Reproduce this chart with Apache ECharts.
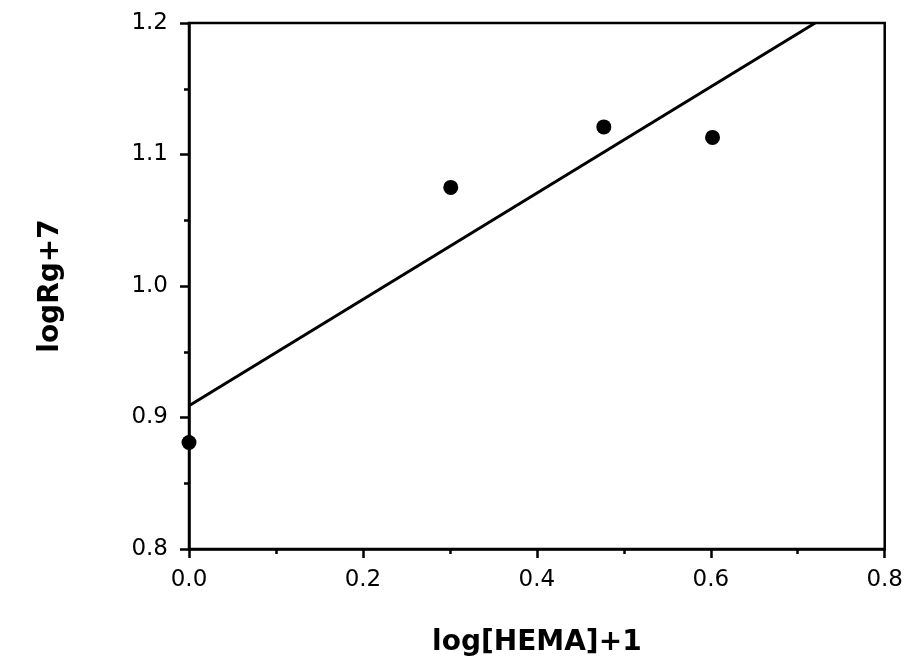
<!DOCTYPE html>
<html>
<head>
<meta charset="utf-8">
<script src="https://cdn.jsdelivr.net/npm/echarts@6/dist/echarts.min.js"></script>
<style>
  html, body { margin: 0; padding: 0; background: #fff; }
  #chart { width: 906px; height: 662px; }
</style>
</head>
<body>
<div id="chart"></div>
<script>
// Measured points: log[HEMA]+1 vs logRg+7
const hemaLog = [0.0, 0.301, 0.477, 0.602];
const rgLog = [0.881, 1.075, 1.121, 1.113];

// Least-squares fit line, drawn between its two ends inside the frame
const fitX = [0.0, 0.72];
const fitY = [0.909, 1.2];

const xTicks = { min: 0, max: 0.8, step: 0.2 };
const yTicks = { min: 0.8, max: 1.2, step: 0.1 };

const points = hemaLog.map((x, i) => [x, rgLog[i]]);
const fitLine = fitX.map((x, i) => [x, fitY[i]]);

const labelStyle = {
  color: '#000',
  fontFamily: 'DejaVu Sans, sans-serif',
  fontSize: 23
};
const nameStyle = {
  color: '#000',
  fontFamily: 'DejaVu Sans, sans-serif',
  fontWeight: 'bold',
  fontSize: 28
};

function makeAxis(extra) {
  return Object.assign({
    type: 'value',
    axisLine: { show: true, onZero: false, lineStyle: { color: '#000', width: 2.5 } },
    axisTick: { show: true, inside: false, length: 9, lineStyle: { color: '#000', width: 2.5 } },
    minorTick: { show: true, splitNumber: 2, length: 5, lineStyle: { color: '#000', width: 2.5 } },
    splitLine: { show: false },
    nameLocation: 'middle',
    nameTextStyle: nameStyle
  }, extra);
}

const chart = echarts.init(document.getElementById('chart'), null, { renderer: 'canvas' });
chart.setOption({
  animation: false,
  backgroundColor: '#fff',
  grid: {
    left: 189, right: 21, top: 23, bottom: 113,
    show: true, borderColor: '#000', borderWidth: 2.5, backgroundColor: 'transparent'
  },
  xAxis: makeAxis({
    min: xTicks.min, max: xTicks.max, interval: xTicks.step,
    name: 'log[HEMA]+1',
    nameGap: 80,
    axisLabel: Object.assign({ margin: 20, formatter: v => v.toFixed(1) }, labelStyle)
  }),
  yAxis: makeAxis({
    min: yTicks.min, max: yTicks.max, interval: yTicks.step,
    name: 'logRg+7',
    nameGap: 124,
    nameRotate: 90,
    axisLabel: Object.assign({ margin: 21, formatter: v => v.toFixed(1) }, labelStyle)
  }),
  series: [
    {
      type: 'line',
      data: fitLine,
      symbol: 'none',
      lineStyle: { color: '#000', width: 3 },
      clip: true,
      z: 2
    },
    {
      type: 'scatter',
      data: points,
      symbol: 'circle',
      symbolSize: 15,
      itemStyle: { color: '#000', opacity: 1 },
      clip: false,
      z: 3
    }
  ]
});
</script>
</body>
</html>
